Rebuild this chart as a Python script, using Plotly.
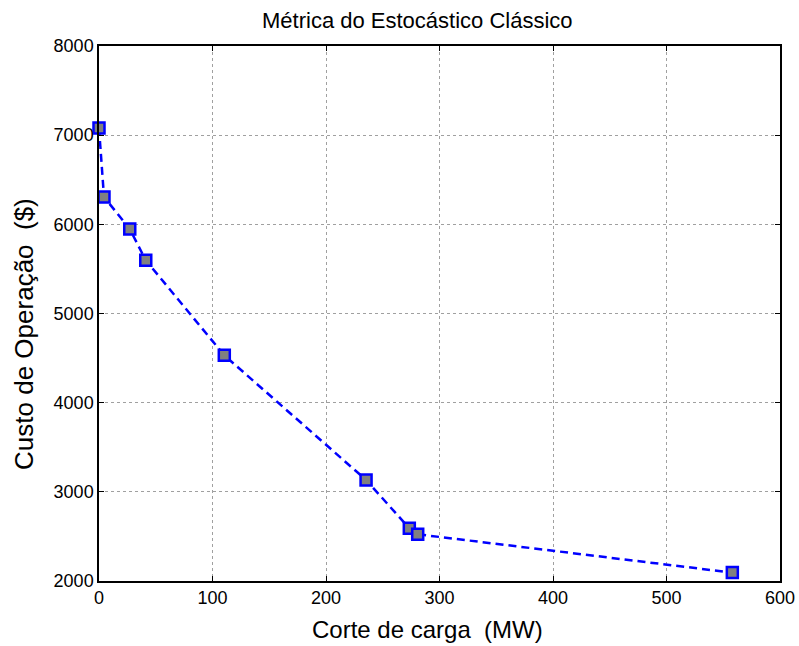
import plotly.graph_objects as go

# Load shedding (MW) vs. operating cost ($)
corte_carga = [0.0, 4.4, 27.1, 41.2, 110.4, 235.3, 273.4, 280.8, 558.0]
custo_operacao = [7080, 6307, 5948, 5597, 4531, 3133, 2591, 2524, 2094]

x_ticks = [0, 100, 200, 300, 400, 500, 600]
y_ticks = [2000, 3000, 4000, 5000, 6000, 7000, 8000]

titulo = "Métrica do Estocástico Clássico"
titulo_x = "Corte de carga\u00a0\u00a0(MW)"
titulo_y = "Custo de Operação\u00a0\u00a0($)"

font_family = "Liberation Sans, Arial, Helvetica, sans-serif"

fig = go.Figure()
fig.add_trace(go.Scatter(
    x=corte_carga,
    y=custo_operacao,
    mode="lines+markers",
    line=dict(color="#0000ff", width=2.5, dash="8px,5px"),
    marker=dict(symbol="square", size=11, color="#808080",
                line=dict(color="#0000ff", width=2.5)),
    cliponaxis=False,
    showlegend=False,
))

axis_common = dict(
    showline=True, linecolor="black", linewidth=1.5, mirror="ticks",
    ticks="inside", ticklen=5, tickcolor="black", tickwidth=1,
    showgrid=True, gridcolor="#a0a0a0", gridwidth=1, griddash="dot",
    zeroline=False, automargin=False,
    tickfont=dict(family=font_family, size=18, color="black"),
)

fig.update_layout(
    width=799, height=646,
    margin=dict(l=99, r=19, t=46, b=65),
    paper_bgcolor="white", plot_bgcolor="white",
    xaxis=dict(range=[0, 600], tickvals=x_ticks, **axis_common),
    yaxis=dict(range=[2000, 8000], tickvals=y_ticks, **axis_common),
    annotations=[
        dict(text=titulo, xref="paper", yref="paper", x=0.467, y=1.047,
             xanchor="center", yanchor="middle", showarrow=False,
             font=dict(family=font_family, size=22, color="black")),
        dict(text=titulo_x, xref="paper", yref="paper", x=0.482, y=-0.090,
             xanchor="center", yanchor="middle", showarrow=False,
             font=dict(family=font_family, size=24, color="black")),
        dict(text=titulo_y, xref="paper", yref="paper", x=-0.110, y=0.462,
             xanchor="center", yanchor="middle", showarrow=False, textangle=-90,
             font=dict(family=font_family, size=26, color="black")),
    ],
)

fig.write_html("out.html")
